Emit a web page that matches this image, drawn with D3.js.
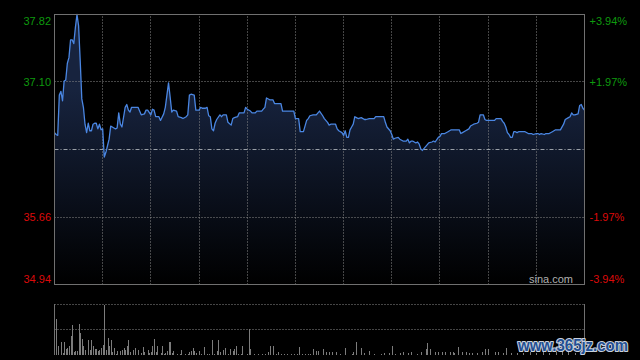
<!DOCTYPE html>
<html><head><meta charset="utf-8">
<script src="https://cdn.jsdelivr.net/npm/d3@7/dist/d3.min.js"></script>
<style>html,body{margin:0;padding:0;background:#000;}svg{display:block;}</style>
</head><body>
<svg id="chart" width="640" height="360"></svg>
<script>
// ---- data ----
const priceMinutes = [0,1,2,3,4,5,6,7,8,9,10,11,12,13,14,15,16,17,18,19,20,21,22,23,24,25,26,27,28,29,30,31,32,33,34,35,37,38,39,40,41,42,44,45,46,47,48,52,53,54,56,57,58,60,61,62,63,65,66,68,69,71,72,73,74,76,77,79,80,82,83,84,85,87,88,90,91,92,94,95,96,97,98,99,100,101,103,104,105,107,108,110,111,112,114,115,117,118,119,120,122,123,125,126,129,130,131,132,134,136,137,141,142,149,150,152,153,155,157,158,159,161,163,165,167,168,170,171,172,175,176,177,179,180,181,182,183,184,185,186,187,188,189,191,193,194,196,199,200,205,206,207,209,210,211,212,214,215,217,219,220,221,222,223,225,226,227,228,229,230,232,233,235,236,237,239,240,241,243,245,247,252,253,254,256,258,259,261,263,264,265,267,268,269,274,275,278,279,280,281,282,283,284,285,286,287,288,289,293,295,297,298,300,301,302,303,305,306,308,310,312,315,317,318,320,321,322,323,324,326,327,328,329,330];
const prices = [36.56,36.54,36.53,36.96,37.00,36.90,37.11,37.12,37.30,37.36,37.55,37.55,37.51,37.68,37.82,37.70,37.33,36.92,36.83,36.65,36.56,36.66,36.58,36.58,36.65,36.66,36.66,36.60,36.65,36.59,36.60,36.30,36.35,36.42,36.49,36.63,36.61,36.60,36.61,36.77,36.65,36.62,36.83,36.86,36.80,36.78,36.83,36.83,36.79,36.75,36.76,36.80,36.80,36.75,36.81,36.80,36.73,36.73,36.69,36.76,36.83,37.09,36.94,36.78,36.80,36.79,36.73,36.72,36.71,36.73,36.75,36.96,36.97,36.96,36.80,36.80,36.83,36.82,36.82,36.83,36.74,36.73,36.60,36.58,36.66,36.70,36.75,36.73,36.75,36.75,36.67,36.64,36.71,36.72,36.73,36.77,36.77,36.77,36.83,36.81,36.79,36.77,36.77,36.79,36.79,36.81,36.83,36.93,36.91,36.91,36.87,36.87,36.79,36.79,36.71,36.71,36.57,36.57,36.69,36.71,36.74,36.75,36.75,36.79,36.74,36.71,36.67,36.64,36.65,36.65,36.60,36.58,36.56,36.53,36.58,36.51,36.51,36.59,36.62,36.65,36.73,36.72,36.71,36.72,36.70,36.70,36.71,36.71,36.73,36.73,36.67,36.62,36.58,36.54,36.49,36.50,36.51,36.49,36.47,36.47,36.49,36.45,36.47,36.47,36.45,36.46,36.44,36.39,36.37,36.39,36.43,36.45,36.46,36.47,36.46,36.51,36.52,36.55,36.55,36.57,36.59,36.59,36.55,36.56,36.58,36.60,36.63,36.65,36.66,36.67,36.75,36.75,36.70,36.69,36.69,36.71,36.71,36.68,36.66,36.62,36.56,36.54,36.51,36.51,36.57,36.57,36.56,36.57,36.57,36.55,36.55,36.54,36.55,36.55,36.54,36.55,36.54,36.55,36.55,36.57,36.59,36.59,36.65,36.70,36.72,36.73,36.77,36.75,36.75,36.76,36.85,36.86,36.82,36.80];
const volMinutes = [1,2,4,5,6,7,8,9,10,11,12,13,14,15,16,17,18,19,21,22,23,24,25,26,27,28,29,30,31,32,33,34,35,36,37,38,39,41,42,43,44,45,46,47,49,50,52,54,55,56,58,59,60,61,62,63,64,66,67,68,69,70,71,72,73,74,76,78,79,81,83,84,85,86,87,88,90,91,93,95,96,98,99,101,102,103,105,106,108,109,111,112,113,114,116,117,120,121,122,124,127,129,131,133,134,136,138,139,141,143,145,147,149,151,152,154,156,158,159,161,163,164,167,169,171,173,175,178,181,185,186,188,191,193,196,199,203,205,208,210,212,215,217,220,222,226,228,231,232,234,237,239,241,243,246,248,249,251,254,256,258,260,263,266,268,270,274,276,279,281,284,288,292,296,300,304,308,312,316,320,324,328];
const volumes = [144,36,52,8,52,24,28,36,76,120,12,16,16,124,88,64,36,20,60,20,60,36,24,24,16,20,28,40,200,20,68,36,60,12,28,4,16,16,20,28,20,36,60,12,20,28,20,8,32,12,20,8,12,36,64,12,36,8,36,4,8,16,52,52,8,16,4,4,20,4,4,12,16,28,16,8,16,4,32,4,4,60,4,16,60,12,20,28,4,24,16,24,36,4,4,36,4,104,24,4,4,4,4,12,36,36,4,12,4,4,4,4,4,4,32,4,4,4,4,24,16,16,24,12,12,12,12,4,28,4,12,52,28,8,16,4,4,8,8,36,4,8,12,8,12,4,12,24,48,24,12,12,12,12,12,12,8,32,12,12,8,8,8,12,24,24,12,12,8,28,8,8,8,12,8,12,8,12,16,12,8,12,16];
const prevClose = 36.38;
const priceTicks = [37.82, 37.10, 35.66, 34.94];
const priceLabels = ["37.82", "37.10", "35.66", "34.94"];
const pctLabels = ["+3.94%", "+1.97%", "-1.97%", "-3.94%"];
const tickColors = ["#0e9a0e", "#0e9a0e", "#dd0a0a", "#dd0a0a"];
const timeGrid = [30,60,90,120,150,180,210,240,270,300];
const totalMinutes = 330;
const volMax = 200;

// ---- layout ----
const svg = d3.select("#chart");
const L = 54.5, R = 584.5, T = 14.5, B = 284.5;
const VT = 305, VB = 355;
const font = "'Liberation Sans', Arial, sans-serif";

const x = d3.scaleLinear().domain([0, totalMinutes]).range([L, R]);
const y = d3.scaleLinear().domain([34.94, 37.82]).range([B, T]);
const yv = d3.scaleLinear().domain([0, volMax]).range([VB, VT]);
const snap = v => Math.floor(v) + 0.5;

svg.append("rect").attr("width", 640).attr("height", 360).attr("fill", "#000");

// gradient for area
const defs = svg.append("defs");
const grad = defs.append("linearGradient").attr("id", "g").attr("gradientUnits", "userSpaceOnUse")
  .attr("x1", 0).attr("x2", 0).attr("y1", 90).attr("y2", B);
grad.append("stop").attr("offset", 0).attr("stop-color", "#17233e");
grad.append("stop").attr("offset", 1).attr("stop-color", "#000000");

const pts = priceMinutes.map((m, i) => [m, prices[i]]);
svg.append("path").datum(pts)
  .attr("fill", "url(#g)")
  .attr("d", d3.area().x(d => x(d[0])).y0(B).y1(d => y(d[1])));

// vertical grid (main)
const vg = svg.append("g").attr("transform", `translate(0,${B})`)
  .call(d3.axisBottom(x).tickValues(timeGrid).tickSize(-(B - T)).tickFormat(""));
vg.select(".domain").remove();
vg.selectAll(".tick line").attr("stroke", "#8a8a8a").attr("stroke-dasharray", "1,2");
vg.selectAll(".tick").attr("transform", d => `translate(${snap(x(d))},0)`);

// horizontal grid (main)
const hg = svg.append("g").attr("transform", `translate(${L},0)`)
  .call(d3.axisRight(y).tickValues([37.10, 35.66]).tickSize(R - L).tickFormat(""));
hg.select(".domain").remove();
hg.selectAll(".tick").attr("transform", d => `translate(0,${snap(y(d))})`);
hg.selectAll(".tick line").attr("stroke", "#8a8a8a").attr("stroke-dasharray", "1,2");

// previous close line
svg.append("line").attr("x1", L).attr("x2", R)
  .attr("y1", snap(y(prevClose))).attr("y2", snap(y(prevClose)))
  .attr("stroke", "#9aa0a8").attr("stroke-dasharray", "4,2,1,2");

// price line
svg.append("path").datum(pts)
  .attr("fill", "none").attr("stroke", "#4a86e2").attr("stroke-width", 1.3)
  .attr("stroke-linejoin", "round")
  .attr("d", d3.line().x(d => x(d[0])).y(d => y(d[1])));

// border
svg.append("rect").attr("x", L).attr("y", T).attr("width", R - L).attr("height", B - T)
  .attr("fill", "none").attr("stroke", "#707070");

// left labels
const la = svg.append("g").attr("transform", `translate(${L - 0.5},0)`)
  .call(d3.axisLeft(y).tickValues(priceTicks).tickSize(0).tickPadding(3)
    .tickFormat((d, i) => priceLabels[i]));
la.select(".domain").remove();
la.selectAll("text").attr("font-family", font).attr("font-size", 11)
  .attr("fill", (d, i) => tickColors[i])
  .attr("transform", (d, i) => i === 0 ? "translate(0,6)" : i === 3 ? "translate(0,-6)" : null);

// right labels
const ra = svg.append("g").attr("transform", `translate(${R},0)`)
  .call(d3.axisRight(y).tickValues(priceTicks).tickSize(0).tickPadding(5)
    .tickFormat((d, i) => pctLabels[i]));
ra.select(".domain").remove();
ra.selectAll("text").attr("font-family", font).attr("font-size", 11)
  .attr("fill", (d, i) => tickColors[i])
  .attr("transform", (d, i) => i === 0 ? "translate(0,6)" : i === 3 ? "translate(0,-6)" : null);

// sina.com
svg.append("text").attr("x", 573).attr("y", 282.5).attr("text-anchor", "end")
  .attr("font-family", font).attr("font-size", 11).attr("fill", "#b0b0b0").text("sina.com");

// ---- volume panel ----
const vgrid = svg.append("g").attr("transform", `translate(${L},0)`)
  .call(d3.axisRight(yv).tickValues([volMax / 2, volMax]).tickSize(R - L).tickFormat(""));
vgrid.select(".domain").remove();
vgrid.selectAll(".tick").attr("transform", d => `translate(0,${Math.floor(yv(d)) - 0.5})`);
vgrid.selectAll(".tick line").attr("stroke", "#8a8a8a").attr("stroke-dasharray", "1,2");

svg.append("g").selectAll("rect").data(volMinutes).join("rect")
  .attr("x", d => Math.round(x(d)))
  .attr("width", 1)
  .attr("y", (d, i) => Math.round(yv(volumes[i])))
  .attr("height", (d, i) => VB - Math.round(yv(volumes[i])))
  .attr("fill", "#7c7c7c");

svg.append("line").attr("x1", L).attr("x2", L).attr("y1", VT - 1).attr("y2", VB)
  .attr("stroke", "#707070");
svg.append("line").attr("x1", R).attr("x2", R).attr("y1", VT - 1).attr("y2", VB)
  .attr("stroke", "#707070");

// watermark overlay
svg.append("text").attr("x", 573).attr("y", 351).attr("text-anchor", "middle")
  .attr("font-family", font).attr("font-weight", "bold").attr("font-size", 16)
  .attr("textLength", 110).attr("lengthAdjust", "spacingAndGlyphs")
  .attr("fill", "#234f93").attr("stroke", "#c9d1dc").attr("stroke-width", 2.2)
  .attr("paint-order", "stroke").attr("stroke-linejoin", "round")
  .text("www.365jz.com");
</script>
</body></html>
